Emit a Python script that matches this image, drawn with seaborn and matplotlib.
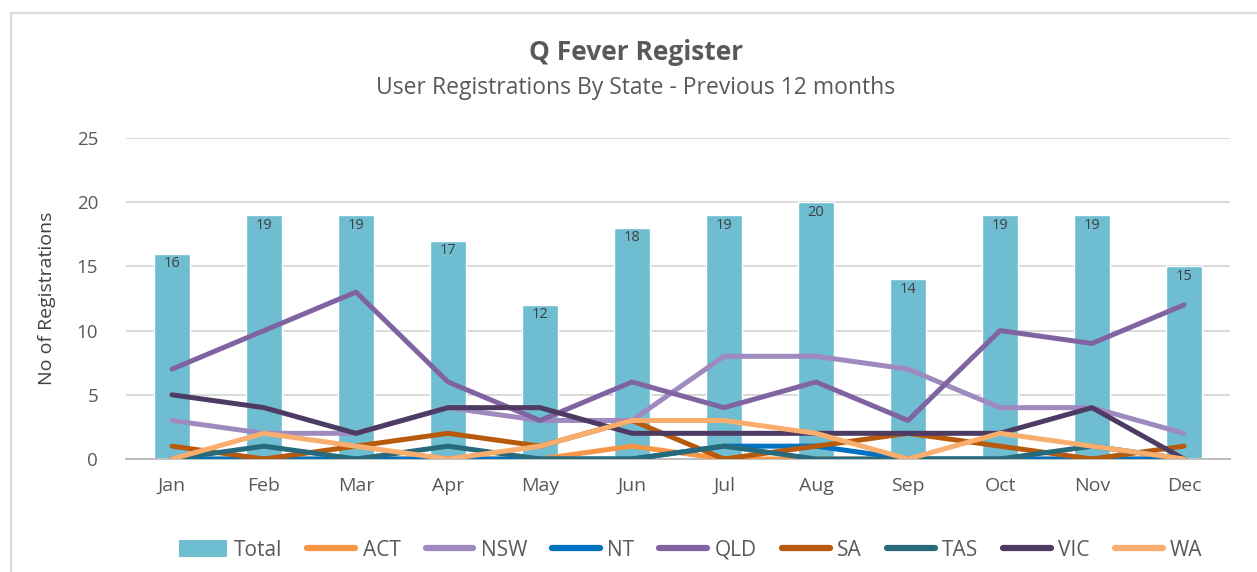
import seaborn as sns
import matplotlib.pyplot as plt
import pandas as pd
from matplotlib.lines import Line2D
from matplotlib.patches import Patch, Rectangle

# Monthly registrations.
months = ["Jan", "Feb", "Mar", "Apr", "May", "Jun",
          "Jul", "Aug", "Sep", "Oct", "Nov", "Dec"]
total = [16, 19, 19, 17, 12, 18, 19, 20, 14, 19, 19, 15]
act = [0, 0, 0, 0, 0, 1, 0, 0, 0, 0, 0, 0]
nsw = [3, 2, 2, 4, 3, 3, 8, 8, 7, 4, 4, 2]
nt = [0, 0, 0, 0, 0, 0, 1, 1, 0, 0, 0, 0]
qld = [7, 10, 13, 6, 3, 6, 4, 6, 3, 10, 9, 12]
sa = [1, 0, 1, 2, 1, 3, 0, 1, 2, 1, 0, 1]
tas = [0, 1, 0, 1, 0, 0, 1, 0, 0, 0, 1, 0]
vic = [5, 4, 2, 4, 4, 2, 2, 2, 2, 2, 4, 0]
wa = [0, 2, 1, 0, 1, 3, 3, 2, 0, 2, 1, 0]

states = {"ACT": act, "NSW": nsw, "NT": nt, "QLD": qld,
          "SA": sa, "TAS": tas, "VIC": vic, "WA": wa}
colors = {"ACT": "#F79646", "NSW": "#9F8AC0", "NT": "#0070C0", "QLD": "#8064A2",
          "SA": "#B85A0C", "TAS": "#276A7C", "VIC": "#4E3B64", "WA": "#FAAE6E"}
bar_color = "#6FBDD1"
txt = "#595959"

sns.set_style("white")
plt.rcParams["font.family"] = ["Open Sans", "DejaVu Sans"]

fig = plt.figure(figsize=(12.57, 5.72), dpi=100)
ax = fig.add_axes([126 / 1257, 1 - 459 / 572, (1230 - 126) / 1257, (459 - 138) / 572])

# Total bars.
bar_df = pd.DataFrame({"Month": months, "Total": total})
sns.barplot(data=bar_df, x="Month", y="Total", color=bar_color, width=0.39,
            saturation=1, ax=ax, zorder=2)
for i, v in enumerate(total):
    ax.text(i, v - 0.2, str(v), ha="center", va="top", fontsize=10.5, color="#404040", zorder=5)

# State lines.
line_df = pd.DataFrame(
    [(i, s, v) for s, vals in states.items() for i, v in enumerate(vals)],
    columns=["pos", "State", "Registrations"],
)
sns.lineplot(data=line_df, x="pos", y="Registrations", hue="State",
             palette=colors, linewidth=3.6, ax=ax, legend=False, zorder=3,
             solid_capstyle="round", solid_joinstyle="round")

ax.set_xlim(-0.5, 11.5)
ax.set_ylim(0, 25)
ax.set_yticks([0, 5, 10, 15, 20, 25])
ax.yaxis.grid(True, color="#D9D9D9", linewidth=1.4, zorder=0)
ax.set_axisbelow(True)
for s in ["top", "right", "left"]:
    ax.spines[s].set_visible(False)
ax.spines["bottom"].set_color("#BFBFBF")
ax.spines["bottom"].set_linewidth(1.4)
ax.set_xticks(range(12))
ax.set_xticklabels(months)
ax.set_xticks([i - 0.5 for i in range(13)], minor=True)
ax.tick_params(axis="x", which="major", length=0, pad=13, labelsize=14, labelcolor=txt)
ax.tick_params(axis="x", which="minor", length=6, width=1.4, color="#BFBFBF")
ax.tick_params(axis="y", length=0, pad=20, labelsize=13.5, labelcolor=txt)
ax.set_xlabel("")
ax.set_ylabel("No of Registrations", fontsize=14, color="#404040", labelpad=15)

fig.text(0.506, 1 - 52 / 572, "Q Fever Register", ha="center", va="center",
         fontsize=19, fontweight="bold", color=txt)
fig.text(0.506, 1 - 88 / 572, "User Registrations By State - Previous 12 months",
         ha="center", va="center", fontsize=16.5, color=txt)

# Legend.
handles = [Patch(facecolor=bar_color, edgecolor="none")]
labels = ["Total"]
for s in states:
    handles.append(Line2D([], [], color=colors[s], linewidth=4.5, solid_capstyle="round"))
    labels.append(s)
fig.legend(handles, labels, loc="center", bbox_to_anchor=(0.5495, 1 - 550 / 572),
           ncol=9, frameon=False, fontsize=15, handlelength=2.3, handleheight=0.9,
           columnspacing=1.2, handletextpad=0.35, labelcolor=txt)

# Light frame around the chart area (runs off the right and bottom edges).
fig.add_artist(Rectangle((11 / 1257, -0.1), 1.2, 1.1 - 13 / 572, transform=fig.transFigure,
                         fill=False, edgecolor="#D9D9D9", linewidth=1.6))

fig.savefig("out.png", dpi=100)
